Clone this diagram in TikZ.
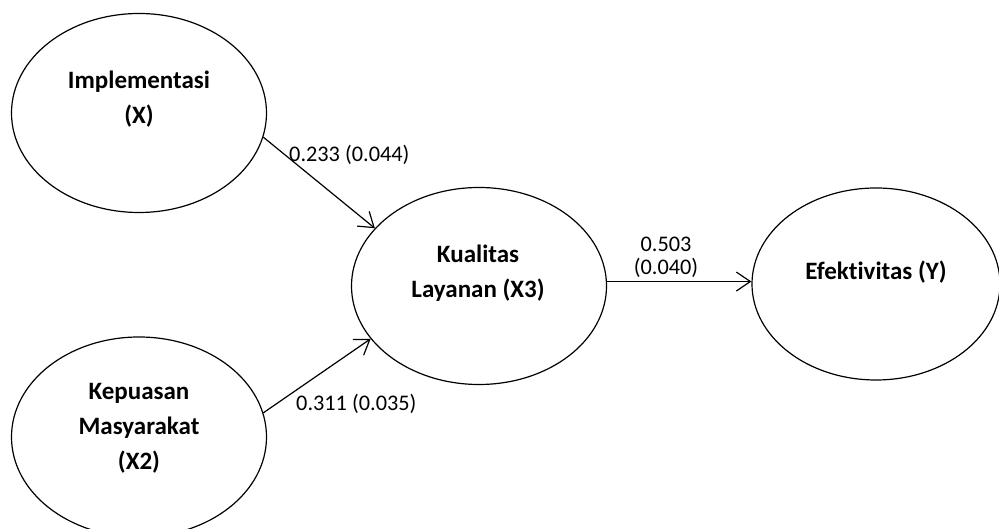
\documentclass[tikz,border=0pt]{standalone}
\usepackage{fontspec}
\setmainfont[Ligatures={NoCommon}]{Carlito}
\usetikzlibrary{shapes.geometric,arrows.meta}
\begin{document}
\begin{tikzpicture}[x=1pt,y=1pt,
  latent/.style={draw, ellipse, line width=1.2pt, inner sep=0pt},
  ltext/.style={align=center, inner sep=0pt, font=\fontsize{25}{35}\selectfont\bfseries},
  coef/.style={inner sep=0pt, font=\fontsize{22.3}{23}\selectfont},
  path/.style={line width=1.2pt, -{Straight Barb[length=14pt,width=19pt,line width=1.2pt]}}]
\useasboundingbox (0,0) rectangle (999,529);
\fill[white] (0,0) rectangle (999,529);
% ellipses
\node[latent, minimum width=255, minimum height=199] (impl) at (139,416) {};
\node[latent, minimum width=255, minimum height=200] (kep) at (139,92) {};
\node[latent, minimum width=255, minimum height=197] (kual) at (479,243) {};
\node[latent, minimum width=248, minimum height=192] (efek) at (876,245) {};
% texts
\node[ltext] (implt) at (139,429.5) {Implementasi\\(X)};
\node[ltext] (kept) at (139,100.5) {Kepuasan\\Masyarakat\\(X2)};
\node[ltext] (kualt) at (478,256) {Kualitas\\Layanan (X3)};
\node[ltext] (efekt) at (876,257) {Efektivitas (Y)};
% paths
\draw[path] (impl.-11.6) -- (kual.151.6);
\draw[path] (kep.11.5) -- (kual.-154);
\coordinate (hs) at (kual.2);
\draw[path] (hs) -- (hs -| efek.west);
% coefficients
\node[coef, anchor=base west] (c1) at (289,367) {0.233 (0.044)};
\node[coef, anchor=base west] (c2) at (296,118) {0.311 (0.035)};
\node[coef, anchor=base] (c3a) at (666,277) {0.503};
\node[coef, anchor=base] (c3b) at (666,254) {(0.040)};
\end{tikzpicture}
\end{document}
